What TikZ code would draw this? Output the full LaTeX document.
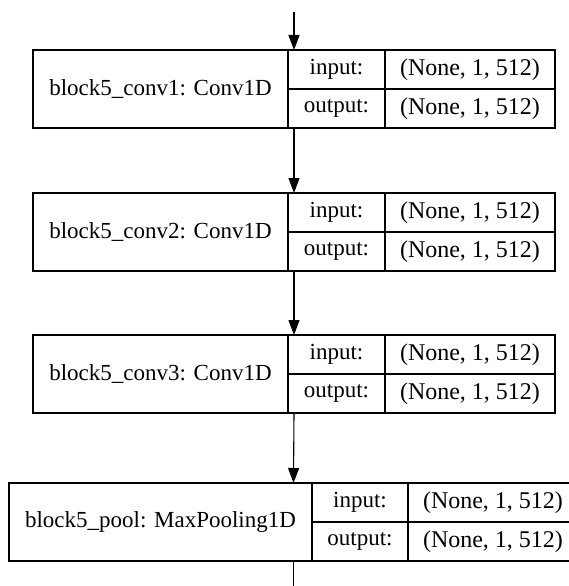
\documentclass[tikz,border=0pt]{standalone}
\usepackage{fontspec}
\setmainfont{Liberation Serif}
\usetikzlibrary{arrows.meta, positioning, calc}
\tikzstyle{layer}=[draw,rectangle,inner sep=0pt,outer sep=0pt,minimum height=78pt]
\tikzstyle{cell}=[draw,rectangle,inner sep=0pt,outer sep=0pt,minimum height=39pt,minimum width=97pt]
\tikzstyle{dims}=[cell,minimum width=170pt,font=\fontsize{24}{28}\selectfont]
\tikzstyle{every node}=[font=\fontsize{23}{27}\selectfont]

\begin{document}
\begin{tikzpicture}[x=1pt,y=1pt,line width=1.1pt,>={Triangle[length=15pt,width=11pt]}]
  \useasboundingbox (0,0) rectangle (569,-586);
  % block5_conv1
  \node[layer,minimum width=255pt] (c1) at (160.5,-89) {block5\_conv1: Conv1D};
  \node[cell,anchor=north west] (c1in) at (c1.north east) {input:};
  \node[cell,below=0pt of c1in] (c1out) {output:};
  \node[dims,right=0pt of c1in] (c1inv) {(None, 1, 512)};
  \node[dims,right=0pt of c1out] (c1outv) {(None, 1, 512)};
  % block5_conv2
  \node[layer,minimum width=255pt,below=65pt of c1] (c2) {block5\_conv2: Conv1D};
  \node[cell,anchor=north west] (c2in) at (c2.north east) {input:};
  \node[cell,below=0pt of c2in] (c2out) {output:};
  \node[dims,right=0pt of c2in] (c2inv) {(None, 1, 512)};
  \node[dims,right=0pt of c2out] (c2outv) {(None, 1, 512)};
  % block5_conv3
  \node[layer,minimum width=255pt,below=64pt of c2] (c3) {block5\_conv3: Conv1D};
  \node[cell,anchor=north west] (c3in) at (c3.north east) {input:};
  \node[cell,below=0pt of c3in] (c3out) {output:};
  \node[dims,right=0pt of c3in] (c3inv) {(None, 1, 512)};
  \node[dims,right=0pt of c3out] (c3outv) {(None, 1, 512)};
  % block5_pool
  \node[layer,minimum width=303pt,below=70pt of c3] (p4) {block5\_pool: MaxPooling1D};
  \node[cell,anchor=north west,minimum width=96pt] (p4in) at (p4.north east) {input:};
  \node[cell,minimum width=96pt,below=0pt of p4in] (p4out) {output:};
  \node[dims,right=0pt of p4in] (p4inv) {(None, 1, 512)};
  \node[dims,right=0pt of p4out] (p4outv) {(None, 1, 512)};
  % record middles
  \coordinate (c1top) at ($(c1.north west)!.5!(c1inv.north east)$);
  \coordinate (c1bot) at ($(c1.south west)!.5!(c1outv.south east)$);
  \coordinate (c2top) at ($(c2.north west)!.5!(c2inv.north east)$);
  \coordinate (c2bot) at ($(c2.south west)!.5!(c2outv.south east)$);
  \coordinate (c3top) at ($(c3.north west)!.5!(c3inv.north east)$);
  \coordinate (c3bot) at ($(c3.south west)!.5!(c3outv.south east)$);
  \coordinate (p4top) at ($(p4.north west)!.5!(p4inv.north east)$);
  \coordinate (p4bot) at ($(p4.south west)!.5!(p4outv.south east)$);
  \coordinate (src) at ($(c1top)+(0,38)$);
  \coordinate (dst) at ($(p4bot)+(0,-30)$);
  \draw[->] (src) -- (c1top);
  \draw[->] (c1bot) -- (c2top);
  \draw[->] (c2bot) -- (c3top);
  \draw[->] (c3bot) -- (p4top);
  \draw (p4bot) -- (dst);
\end{tikzpicture}
\end{document}
